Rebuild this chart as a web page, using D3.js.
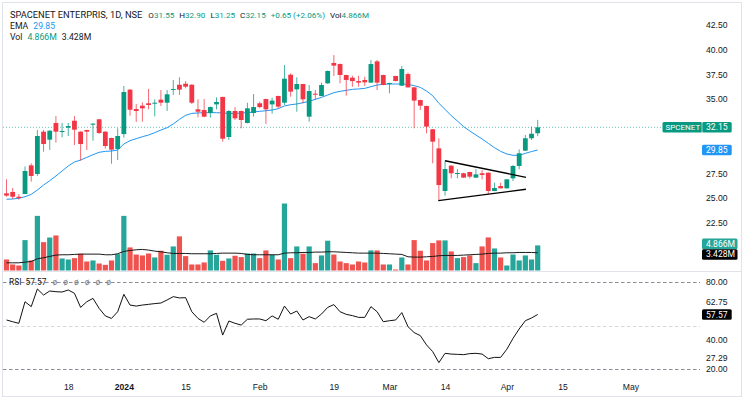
<!DOCTYPE html>
<html>
<head>
<meta charset="utf-8">
<script src="https://cdn.jsdelivr.net/npm/d3@7"></script>
<style>
  html, body { margin: 0; padding: 0; background: #fff; }
  svg { display: block; font-family: Roboto, "Liberation Sans", sans-serif; }
</style>
</head>
<body>
<div id="chart"></div>
<script>
// daily candles, Dec 4 2023 -> Apr 8 2024 (87 sessions)
const opens = [
  25.47, 25.61, 25.13, 25.40, 28.30, 27.43, 31.71, 30.90, 32.59, 31.70,
  32.11, 32.82, 31.71, 31.88, 32.42, 32.96, 31.71, 31.07, 29.96, 31.47,
  35.96, 34.00, 34.34, 34.58, 34.58, 34.95, 34.64, 35.96, 36.46, 36.56,
  36.46, 33.97, 33.90, 33.60, 34.47, 35.22, 31.17, 33.80, 33.80, 32.59,
  33.60, 34.58, 35.01, 34.47, 35.32, 34.64, 37.47, 35.99, 36.53, 33.23,
  35.55, 35.32, 36.60, 38.66, 38.55, 37.44, 37.17, 36.83, 36.94, 36.67,
  38.82, 37.44, 36.55, 37.34, 36.36, 37.54, 36.19, 34.91, 34.31, 31.95,
  30.02, 25.71, 28.27, 27.46, 27.50, 27.63, 27.06, 27.50, 27.56, 25.71,
  26.21, 25.98, 26.99, 28.24, 29.79, 31.04, 31.55
]
const highs = [
  26.89, 26.01, 25.40, 28.20, 28.51, 31.88, 31.88, 31.85, 33.29, 32.59,
  32.59, 33.29, 31.75, 31.90, 32.59, 33.00, 31.75, 31.10, 32.05, 36.33,
  36.03, 34.51, 34.68, 36.03, 34.98, 35.92, 35.92, 36.94, 37.21, 36.83,
  36.50, 34.98, 35.01, 34.25, 35.18, 35.25, 33.90, 34.20, 33.85, 34.64,
  35.52, 34.74, 35.05, 35.15, 35.35, 38.45, 37.61, 37.21, 36.55, 36.43,
  35.92, 36.67, 37.90, 39.46, 38.60, 37.47, 37.37, 37.37, 37.27, 38.96,
  38.96, 37.47, 36.67, 37.37, 38.35, 37.68, 36.22, 34.94, 34.34, 31.98,
  31.04, 28.78, 28.30, 27.93, 27.56, 27.66, 27.93, 27.83, 27.59, 26.55,
  26.55, 26.92, 28.34, 29.92, 31.37, 32.22, 32.90
]
const lows = [
  25.13, 24.90, 24.83, 25.40, 26.65, 27.23, 29.69, 29.86, 30.60, 31.14,
  31.27, 30.36, 28.78, 29.86, 30.80, 31.50, 29.99, 28.47, 28.84, 31.10,
  33.33, 32.69, 32.72, 33.97, 33.26, 34.31, 33.80, 35.42, 35.42, 36.09,
  34.51, 33.16, 33.16, 33.13, 33.97, 30.70, 30.87, 32.89, 32.05, 32.55,
  33.23, 34.07, 32.49, 33.53, 34.07, 34.41, 35.25, 33.73, 34.58, 32.72,
  34.91, 35.30, 36.55, 37.34, 36.60, 35.35, 36.26, 36.26, 36.33, 36.65,
  35.92, 36.40, 35.59, 36.80, 36.33, 36.17, 32.05, 33.90, 31.54, 28.51,
  24.80, 25.24, 26.99, 26.99, 27.04, 26.99, 27.04, 26.89, 25.40, 25.69,
  25.96, 25.96, 26.72, 27.90, 29.75, 30.87, 31.25
]
const closes = [
  25.24, 25.13, 25.00, 27.73, 27.23, 31.27, 30.46, 31.81, 31.71, 31.78,
  32.28, 31.91, 30.46, 31.71, 32.52, 31.57, 30.26, 29.89, 31.27, 35.72,
  33.93, 33.80, 34.07, 34.41, 34.64, 34.64, 35.49, 36.03, 35.96, 36.26,
  34.64, 33.73, 33.23, 34.20, 34.71, 31.00, 33.80, 33.06, 32.89, 34.07,
  34.20, 34.20, 33.97, 34.85, 34.24, 37.07, 35.76, 36.53, 34.98, 35.82,
  35.49, 36.43, 37.85, 38.39, 37.44, 36.94, 36.83, 36.67, 36.70, 38.55,
  36.67, 36.43, 36.63, 36.83, 38.05, 36.19, 34.85, 34.34, 32.22, 30.70,
  26.31, 27.93, 27.50, 27.53, 27.06, 27.16, 27.39, 27.33, 25.71, 26.01,
  25.98, 26.89, 28.24, 29.52, 31.04, 31.50, 32.15
]
// volume in millions
const volumes = [
  2.14, 1.17, 0.97, 5.90, 1.95, 10.6, 5.50, 6.40, 6.80, 2.34,
  2.14, 2.40, 3.25, 1.75, 1.95, 1.36, 1.10, 1.95, 3.18, 10.6,
  4.48, 3.10, 2.92, 3.30, 2.53, 3.83, 3.05, 4.67, 6.62, 2.79,
  1.17, 1.17, 1.56, 3.90, 3.05, 1.88, 2.34, 2.86, 2.60, 3.30,
  3.30, 2.40, 3.90, 3.05, 2.14, 13.0, 2.40, 4.67, 3.25, 4.67,
  1.43, 2.92, 5.78, 3.10, 1.75, 1.43, 1.17, 1.75, 1.56, 3.90,
  3.90, 1.17, 1.17, 0.20, 2.53, 1.17, 5.90, 3.83, 1.95, 5.32,
  5.84, 5.84, 3.70, 2.40, 2.60, 2.92, 1.43, 4.67, 6.42, 4.28,
  2.53, 0.97, 3.10, 1.95, 2.92, 2.14, 4.866
]
// indicator lines
const emaValues = [
  24.87, 24.90, 24.97, 25.13, 25.37, 25.81, 26.31, 26.75, 27.23, 27.73,
  28.24, 28.64, 28.84, 29.11, 29.38, 29.62, 29.72, 29.75, 29.86, 30.46,
  30.80, 31.00, 31.20, 31.37, 31.61, 31.88, 32.11, 32.49, 32.96, 33.36,
  33.56, 33.60, 33.63, 33.63, 33.63, 33.60, 33.56, 33.56, 33.60, 33.63,
  33.70, 33.77, 33.83, 33.90, 34.04, 34.31, 34.44, 34.51, 34.64, 34.78,
  34.98, 35.18, 35.42, 35.65, 35.79, 35.89, 35.99, 36.03, 36.09, 36.26,
  36.43, 36.50, 36.53, 36.53, 36.53, 36.50, 36.36, 36.19, 35.82, 35.35,
  34.58, 33.97, 33.33, 32.79, 32.22, 31.78, 31.37, 30.97, 30.53, 30.09,
  29.72, 29.45, 29.32, 29.32, 29.52, 29.70, 29.85
]
const volMaValues = [
  1.49, 1.49, 1.49, 1.62, 1.75, 2.27, 2.47, 2.73, 2.99, 3.05,
  3.05, 3.12, 3.18, 3.18, 3.18, 3.18, 3.05, 3.05, 3.25, 3.70,
  3.89, 4.02, 4.09, 3.96, 3.76, 3.63, 3.44, 3.31, 3.31, 3.31,
  3.25, 3.25, 3.25, 3.25, 3.31, 3.37, 3.37, 3.37, 3.31, 3.12,
  3.05, 3.05, 3.05, 3.05, 3.05, 3.37, 3.44, 3.44, 3.50, 3.50,
  3.57, 3.57, 3.63, 3.63, 3.57, 3.50, 3.44, 3.37, 3.37, 3.37,
  3.37, 3.31, 3.25, 3.18, 3.12, 2.66, 2.60, 2.60, 2.66, 2.73,
  2.86, 2.92, 2.92, 2.92, 2.99, 3.05, 3.12, 3.18, 3.31, 3.37,
  3.37, 3.44, 3.44, 3.50, 3.50, 3.50, 3.428
]
const rsiValues = [
  53.8, 52.6, 51.5, 66.4, 63.0, 75.2, 71.0, 73.8, 73.3, 73.1,
  74.5, 72.2, 62.5, 66.4, 68.7, 61.8, 56.6, 54.9, 59.5, 71.5,
  64.1, 63.4, 64.1, 64.6, 65.1, 65.5, 67.6, 69.9, 69.0, 69.2,
  59.5, 54.9, 52.2, 56.6, 58.4, 43.4, 53.1, 51.5, 50.3, 54.3,
  54.5, 54.5, 53.3, 56.6, 54.3, 63.4, 57.9, 60.0, 53.8, 56.1,
  54.5, 57.9, 62.5, 64.4, 59.5, 57.7, 56.8, 55.6, 55.6, 63.0,
  59.5, 52.6, 53.3, 53.8, 58.9, 49.2, 45.1, 43.0, 36.6, 32.0,
  24.4, 30.8, 30.3, 30.1, 29.9, 30.6, 30.8, 30.3, 27.1, 28.0,
  28.0, 33.6, 41.1, 47.6, 53.3, 55.2, 57.57
]

// axis ticks (30.00 and 32.50 sit under the value tags, so they are left out)
const priceTicks = [22.5, 25, 27.5, 35, 37.5, 40, 42.5]
const rsiTicks = [80, 62.75, 40, 27.29, 20]
const rsiLevels = [80, 50, 20]
const timeTickIndex = [10, 19, 29, 41, 53, 62, 71, 81, 90, 101]
const timeTickLabels = [`18`, `2024`, `15`, `Feb`, `19`, `Mar`, `14`, `Apr`, `15`, `May`]

// drawn triangle (bar index, price)
const trendLines = [
  [[71.0, 28.77], [84.1, 27.09]],
  [[69.9, 24.73], [84.1, 25.88]]
]


// colors
const upColor = `#089981`
const downColor = `#f23645`
const volUp = `#26a69a`
const volDown = `#ef5350`
const emaColor = `#2196f3`
const textColor = `#131722`
const borderColor = `#e0e3eb`

const W = 744, H = 399
const n = closes.length
const last = n - 1

const svg = d3.select(`#chart`).append(`svg`)
  .attr(`width`, W)
  .attr(`height`, H)

// scales
const x = d3.scaleLinear().domain([0, last]).range([6.5, 537.7])
const y = d3.scaleLinear().domain([25, 42.5]).range([198, 25])
const yVol = d3.scaleLinear().domain([0, 13]).range([270.5, 203.5])
const yRsi = d3.scaleLinear().domain([20, 80]).range([369, 282])

// clip regions for the two panes
const defs = svg.append(`defs`)
defs.append(`clipPath`).attr(`id`, `mainClip`)
  .append(`rect`).attr(`x`, 3).attr(`y`, 3).attr(`width`, 697).attr(`height`, 268)
defs.append(`clipPath`).attr(`id`, `rsiClip`)
  .append(`rect`).attr(`x`, 3).attr(`y`, 272).attr(`width`, 697).attr(`height`, 104)

// frame
svg.append(`rect`)
  .attr(`x`, 2.5).attr(`y`, 2.5).attr(`width`, 739).attr(`height`, 394)
  .attr(`fill`, `none`).attr(`stroke`, borderColor)
svg.append(`line`)
  .attr(`x1`, 2.5).attr(`x2`, 741.5).attr(`y1`, 271.5).attr(`y2`, 271.5)
  .attr(`stroke`, borderColor)

const main = svg.append(`g`).attr(`clip-path`, `url(#mainClip)`)
const rsiPane = svg.append(`g`).attr(`clip-path`, `url(#rsiClip)`)


///////////////////////////////////////////////////////////////////////////////
//// MAIN PANE
///////////////////////////////////////////////////////////////////////////////

const idx = d3.range(n)

// volume bars
main.append(`g`).selectAll(`rect`).data(idx).join(`rect`)
  .attr(`x`, i => x(i) - 2.6)
  .attr(`width`, 5.2)
  .attr(`y`, i => yVol(volumes[i]))
  .attr(`height`, i => yVol(0) - yVol(volumes[i]))
  .attr(`fill`, i => closes[i] >= opens[i] ? volUp : volDown)

// volume moving average
main.append(`path`)
  .datum(idx)
  .attr(`d`, d3.line().x(i => x(i)).y(i => yVol(volMaValues[i])))
  .attr(`fill`, `none`)
  .attr(`stroke`, `#1a1a1a`)
  .attr(`stroke-width`, 1)

// last price dotted line
main.append(`line`)
  .attr(`x1`, 3).attr(`x2`, 662)
  .attr(`y1`, y(closes[last])).attr(`y2`, y(closes[last]))
  .attr(`stroke`, upColor)
  .attr(`stroke-dasharray`, `1,2`)
  .attr(`stroke-opacity`, 0.6)

// ema
main.append(`path`)
  .datum(idx)
  .attr(`d`, d3.line().x(i => x(i)).y(i => y(emaValues[i])))
  .attr(`fill`, `none`)
  .attr(`stroke`, emaColor)
  .attr(`stroke-width`, 1)

// candles
const candles = main.append(`g`).selectAll(`g`).data(idx).join(`g`)
candles.append(`line`)
  .attr(`x1`, i => x(i)).attr(`x2`, i => x(i))
  .attr(`y1`, i => y(highs[i])).attr(`y2`, i => y(lows[i]))
  .attr(`stroke`, i => closes[i] >= opens[i] ? upColor : downColor)
  .attr(`stroke-opacity`, 0.75)
candles.append(`rect`)
  .attr(`x`, i => x(i) - 2.4)
  .attr(`width`, 4.8)
  .attr(`y`, i => y(Math.max(opens[i], closes[i])))
  .attr(`height`, i => Math.max(1, Math.abs(y(opens[i]) - y(closes[i]))))
  .attr(`fill`, i => closes[i] >= opens[i] ? upColor : downColor)

// triangle drawing
main.append(`g`).selectAll(`path`).data(trendLines).join(`path`)
  .attr(`d`, d3.line().x(d => x(d[0])).y(d => y(d[1])))
  .attr(`stroke`, `#000`)
  .attr(`stroke-width`, 1.4)
  .attr(`fill`, `none`)


///////////////////////////////////////////////////////////////////////////////
//// RSI PANE
///////////////////////////////////////////////////////////////////////////////

rsiPane.append(`g`).selectAll(`line`).data(rsiLevels).join(`line`)
  .attr(`x1`, 3).attr(`x2`, 700)
  .attr(`y1`, d => Math.round(yRsi(d)) + 0.5).attr(`y2`, d => Math.round(yRsi(d)) + 0.5)
  .attr(`stroke`, d => d === 50 ? `#d6d8de` : `#8a8d96`)
  .attr(`stroke-dasharray`, `3.5,2.5`)

rsiPane.append(`path`)
  .datum(idx)
  .attr(`d`, d3.line().x(i => x(i)).y(i => yRsi(rsiValues[i])))
  .attr(`fill`, `none`)
  .attr(`stroke`, `#111`)
  .attr(`stroke-width`, 1)


///////////////////////////////////////////////////////////////////////////////
//// AXES
///////////////////////////////////////////////////////////////////////////////

const axisFont = 8.6

const priceAxis = svg.append(`g`)
  .attr(`transform`, `translate(704,0)`)
  .call(d3.axisRight(y).tickValues(priceTicks).tickSize(0).tickPadding(2).tickFormat(d3.format(`.2f`)))
priceAxis.select(`.domain`).remove()
priceAxis.selectAll(`text`).attr(`fill`, textColor).attr(`font-size`, axisFont).attr(`font-family`, null)

// rsi labels, 62.75 pushed up above the value box
const rsiBoxTop = yRsi(rsiValues[last]) - 5
const rsiAxis = svg.append(`g`)
  .attr(`transform`, `translate(704,0)`)
  .call(d3.axisRight(yRsi).tickValues(rsiTicks).tickSize(0).tickPadding(2).tickFormat(d3.format(`.2f`)))
rsiAxis.select(`.domain`).remove()
rsiAxis.selectAll(`.tick`)
  .attr(`transform`, d => `translate(0,${d === 62.75 ? Math.min(yRsi(d), rsiBoxTop - 7) : yRsi(d)})`)
rsiAxis.selectAll(`text`).attr(`fill`, textColor).attr(`font-size`, axisFont).attr(`font-family`, null)

const timeAxis = svg.append(`g`)
  .attr(`transform`, `translate(0,381)`)
  .call(d3.axisBottom(x).tickValues(timeTickIndex).tickSize(0).tickPadding(3)
    .tickFormat((d, i) => timeTickLabels[i]))
timeAxis.select(`.domain`).remove()
timeAxis.selectAll(`text`)
  .attr(`fill`, textColor).attr(`font-size`, axisFont).attr(`font-family`, null)
  .attr(`font-weight`, (d, i) => timeTickLabels[i] === `2024` ? `bold` : null)


///////////////////////////////////////////////////////////////////////////////
//// VALUE LABELS ON THE SCALE
///////////////////////////////////////////////////////////////////////////////

function scaleLabel(yc, txt, bg, width) {
  svg.append(`rect`)
    .attr(`x`, 702).attr(`y`, yc - 5.3).attr(`width`, width).attr(`height`, 10.6)
    .attr(`rx`, 1.5).attr(`fill`, bg)
  svg.append(`text`)
    .attr(`x`, 706).attr(`y`, yc).attr(`dy`, `0.35em`)
    .attr(`font-size`, axisFont).attr(`fill`, `#fff`)
    .text(txt)
}

// symbol tag
const yLast = y(closes[last])
svg.append(`rect`)
  .attr(`x`, 662.5).attr(`y`, yLast - 5.3).attr(`width`, 40).attr(`height`, 10.6)
  .attr(`rx`, 1.5).attr(`fill`, upColor)
svg.append(`text`)
  .attr(`x`, 665.5).attr(`y`, yLast).attr(`dy`, `0.35em`)
  .attr(`font-size`, 8).attr(`fill`, `#fff`)
  .text(`SPCENET`)
scaleLabel(yLast, closes[last].toFixed(2), upColor, 29.7)
svg.append(`line`)
  .attr(`x1`, 702).attr(`x2`, 702).attr(`y1`, yLast - 5.3).attr(`y2`, yLast + 5.3)
  .attr(`stroke`, `#fff`).attr(`stroke-opacity`, 0.6)

scaleLabel(y(emaValues[last]), emaValues[last].toFixed(2), emaColor, 29.7)

// volume tags are spread apart so they do not overlap
const yv1 = yVol(volumes[last]), yv2 = yVol(volMaValues[last])
const vMid = (yv1 + yv2) / 2
scaleLabel(Math.min(yv1, vMid - 5.3), volumes[last].toFixed(3) + `M`, volUp, 35.5)
scaleLabel(Math.max(yv2, vMid + 5.3), volMaValues[last].toFixed(3) + `M`, `#000`, 35.5)

scaleLabel(yRsi(rsiValues[last]), rsiValues[last].toFixed(2), `#000`, 29.7)


///////////////////////////////////////////////////////////////////////////////
//// LEGENDS
///////////////////////////////////////////////////////////////////////////////

const legend = svg.append(`g`).attr(`font-size`, 8.7).attr(`fill`, textColor)

const chg = closes[last] - closes[last - 1]
const l1 = legend.append(`text`).attr(`x`, 10).attr(`y`, 17.5).attr(`font-size`, 8.1)
l1.append(`tspan`).attr(`font-size`, 9.3).text(`SPACENET ENTERPRIS, 1D, NSE`)
;[[`O`, opens[last]], [`H`, highs[last]], [`L`, lows[last]], [`C`, closes[last]]].forEach(([k, v], j) => {
  l1.append(`tspan`).attr(`dx`, j === 0 ? 6 : 5).text(k)
  l1.append(`tspan`).attr(`fill`, upColor).text(v.toFixed(2))
})
l1.append(`tspan`).attr(`dx`, 5).attr(`fill`, upColor)
  .text(`+${chg.toFixed(2)} (+${(chg / closes[last - 1] * 100).toFixed(2)}%)`)
l1.append(`tspan`).attr(`dx`, 5).text(`Vol`)
l1.append(`tspan`).attr(`fill`, upColor).text(volumes[last].toFixed(3) + `M`)

const l2 = legend.append(`text`).attr(`x`, 10).attr(`y`, 28.5)
l2.append(`tspan`).text(`EMA`)
l2.append(`tspan`).attr(`dx`, 5).attr(`fill`, emaColor).text(emaValues[last].toFixed(2))

const l3 = legend.append(`text`).attr(`x`, 10).attr(`y`, 39.5)
l3.append(`tspan`).text(`Vol`)
l3.append(`tspan`).attr(`dx`, 5).attr(`fill`, upColor).text(volumes[last].toFixed(3) + `M`)
l3.append(`tspan`).attr(`dx`, 5).text(volMaValues[last].toFixed(3) + `M`)

// rsi legend sits on the 80 line
const rl = svg.append(`text`).attr(`x`, 9).attr(`y`, 285).attr(`font-size`, 8.4).attr(`fill`, textColor)
rl.append(`tspan`).text(`RSI`)
rl.append(`tspan`).attr(`dx`, 4).text(rsiValues[last].toFixed(2))
d3.range(6).forEach(() => rl.append(`tspan`).attr(`dx`, 6).attr(`fill`, `#787b86`).text(`ø`))
</script>
</body>
</html>
